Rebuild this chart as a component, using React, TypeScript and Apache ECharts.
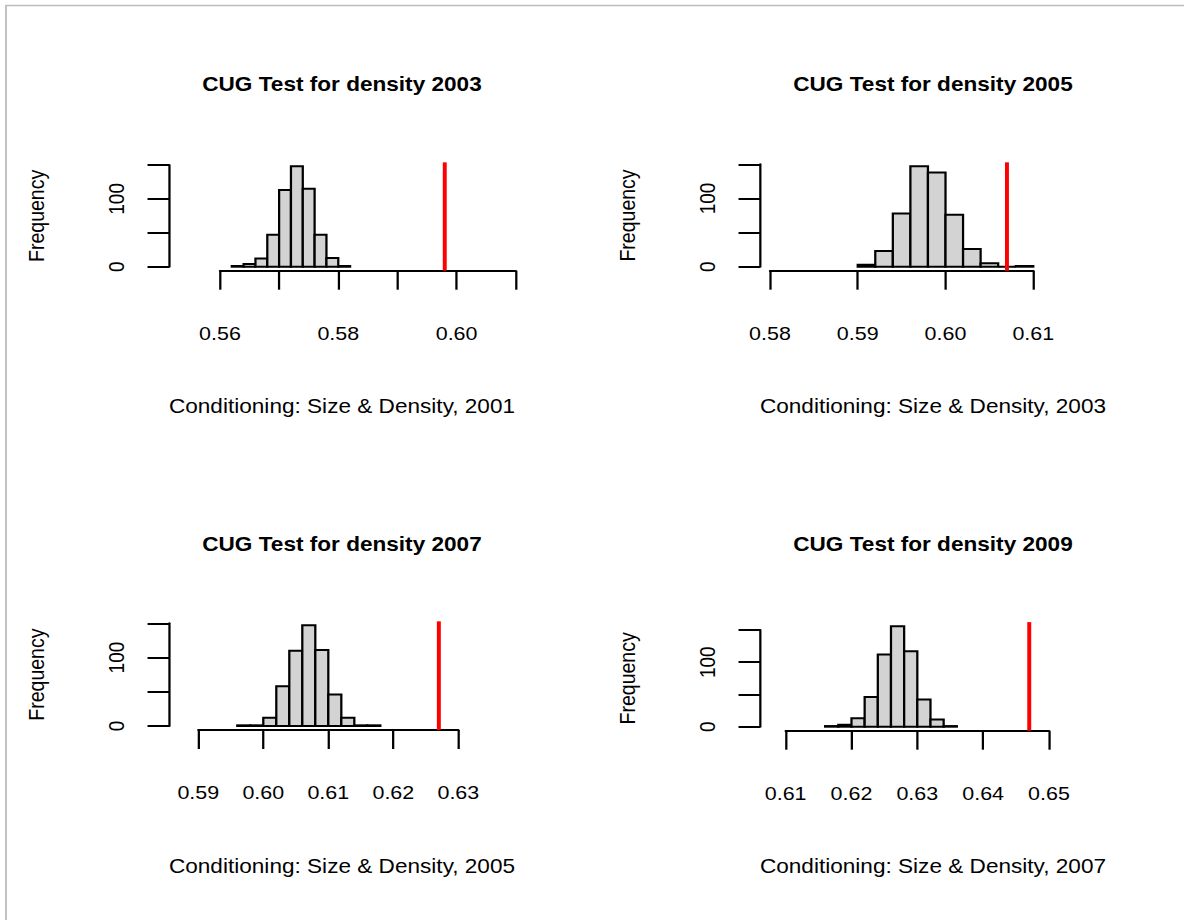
import React, { useEffect, useRef } from "react";
import * as echarts from "echarts";

// ---------- data ----------
const panelTitles = [
  "CUG Test for density 2003",
  "CUG Test for density 2005",
  "CUG Test for density 2007",
  "CUG Test for density 2009",
];
const panelXLabels = [
  "Conditioning: Size & Density, 2001",
  "Conditioning: Size & Density, 2003",
  "Conditioning: Size & Density, 2005",
  "Conditioning: Size & Density, 2007",
];
const yLabel = "Frequency";

const breaks2003 = [0.562, 0.564, 0.566, 0.568, 0.57, 0.572, 0.574, 0.576, 0.578, 0.58, 0.582];
const counts2003 = [1, 4, 12, 47, 113, 148, 115, 47, 13, 1];
const observed2003 = 0.598;
const xTicks2003 = [0.56, 0.57, 0.58, 0.59, 0.6, 0.61];
const xTickLabels2003 = ["0.56", "", "0.58", "", "0.60", ""];

const breaks2005 = [0.59, 0.592, 0.594, 0.596, 0.598, 0.6, 0.602, 0.604, 0.606, 0.608, 0.61];
const counts2005 = [3, 23, 78, 147, 138, 76, 26, 5, 0, 1];
const observed2005 = 0.607;
const xTicks2005 = [0.58, 0.59, 0.6, 0.61];
const xTickLabels2005 = ["0.58", "0.59", "0.60", "0.61"];

const breaks2007 = [0.596, 0.598, 0.6, 0.602, 0.604, 0.606, 0.608, 0.61, 0.612, 0.614, 0.616, 0.618];
const counts2007 = [1, 1, 12, 58, 110, 147, 111, 46, 12, 1, 1];
const observed2007 = 0.627;
const xTicks2007 = [0.59, 0.6, 0.61, 0.62, 0.63];
const xTickLabels2007 = ["0.59", "0.60", "0.61", "0.62", "0.63"];

const breaks2009 = [0.616, 0.618, 0.62, 0.622, 0.624, 0.626, 0.628, 0.63, 0.632, 0.634, 0.636];
const counts2009 = [1, 3, 13, 46, 112, 156, 117, 42, 11, 1];
const observed2009 = 0.647;
const xTicks2009 = [0.61, 0.62, 0.63, 0.64, 0.65];
const xTickLabels2009 = ["0.61", "0.62", "0.63", "0.64", "0.65"];

const xTickStep = 0.01;
const yTicks = [0, 50, 100, 150];
const yTickLabels = ["0", "50", "100", "150"];
const yTickLabelShown = ["0", "", "100", ""];

// ---------- layout (chart space; the chart is stretched horizontally by K) ----------
const PAGE_W = 1184;
const PAGE_H = 920;
const CHART_W = 1048;
const K = PAGE_W / CHART_W;

const layout = [
  { left: 194.7, width: 261.8, top: 165, height: 101.7, yOffset: 45.1, cx: 302.7, titleY: 84, xlabY: 406 },
  { left: 681.5, width: 233.1, top: 164.3, height: 102.4, yOffset: 8.8, cx: 825.8, titleY: 84, xlabY: 406 },
  { left: 175.5, width: 230.2, top: 623.3, height: 102.7, yOffset: 25.9, cx: 302.7, titleY: 544, xlabY: 866 },
  { left: 695.4, width: 233.1, top: 630, height: 96.7, yOffset: 22.7, cx: 825.8, titleY: 544, xlabY: 866 },
];

const FONT = "'Liberation Sans', Arial, Helvetica, sans-serif";

const panels = [
  { breaks: breaks2003, counts: counts2003, observed: observed2003, xTicks: xTicks2003, xTickLabels: xTickLabels2003 },
  { breaks: breaks2005, counts: counts2005, observed: observed2005, xTicks: xTicks2005, xTickLabels: xTickLabels2005 },
  { breaks: breaks2007, counts: counts2007, observed: observed2007, xTicks: xTicks2007, xTickLabels: xTickLabels2007 },
  { breaks: breaks2009, counts: counts2009, observed: observed2009, xTicks: xTicks2009, xTickLabels: xTickLabels2009 },
];

function buildOption() {
  const grid: any[] = [];
  const xAxis: any[] = [];
  const yAxis: any[] = [];
  const series: any[] = [];
  const title: any[] = [];

  panels.forEach((p, i) => {
    const L = layout[i];
    grid.push({ left: L.left, top: L.top, width: L.width, height: L.height, containLabel: false, outerBoundsMode: "none" });
    xAxis.push({
      gridIndex: i,
      type: "value",
      min: p.xTicks[0],
      max: p.xTicks[p.xTicks.length - 1],
      interval: xTickStep,
      offset: 4,
      axisLine: { show: true, onZero: false, lineStyle: { color: "#000", width: 2 } },
      axisTick: { show: true, length: 19, lineStyle: { color: "#000", width: 2 } },
      axisLabel: {
        margin: 53,
        fontSize: 19,
        color: "#000",
        fontFamily: FONT,
        showMinLabel: true,
        showMaxLabel: true,
        formatter: (v: number) => {
          const idx = p.xTicks.findIndex((t) => Math.abs(t - v) < 1e-9);
          return idx >= 0 ? p.xTickLabels[idx] : "";
        },
      },
      splitLine: { show: false },
    });
    yAxis.push({
      gridIndex: i,
      type: "value",
      min: yTicks[0],
      max: yTicks[yTicks.length - 1],
      interval: yTicks[1] - yTicks[0],
      offset: L.yOffset,
      name: yLabel,
      nameLocation: "middle",
      nameRotate: 90,
      nameGap: 108,
      nameTextStyle: { fontSize: 19.5, color: "#000", fontFamily: FONT },
      axisLine: { show: true, onZero: false, lineStyle: { color: "#000", width: 2 } },
      axisTick: { show: true, length: 19, lineStyle: { color: "#000", width: 2 } },
      axisLabel: {
        rotate: 90,
        margin: 37,
        fontSize: 19,
        color: "#000",
        fontFamily: FONT,
        showMinLabel: true,
        showMaxLabel: true,
        formatter: (v: number) => {
          const idx = yTicks.findIndex((t) => Math.abs(t - v) < 1e-9);
          return idx >= 0 ? yTickLabelShown[idx] : "";
        },
      },
      splitLine: { show: false },
    });

    series.push({
      type: "custom",
      xAxisIndex: i,
      yAxisIndex: i,
      clip: false,
      silent: true,
      data: p.counts.map((c, j) => [p.breaks[j], p.breaks[j + 1], c]),
      encode: { x: [0, 1], y: 2 },
      renderItem: (_params: any, api: any) => {
        const a = api.coord([api.value(0), api.value(2)]);
        const b = api.coord([api.value(1), 0]);
        return {
          type: "rect",
          shape: { x: a[0], y: a[1], width: b[0] - a[0], height: b[1] - a[1] },
          style: { fill: "#d3d3d3", stroke: "#000", lineWidth: 2 },
        };
      },
    });

    const maxCount = Math.max(...p.counts);
    series.push({
      type: "custom",
      xAxisIndex: i,
      yAxisIndex: i,
      clip: false,
      silent: true,
      data: [[p.observed, -0.04 * maxCount, 1.04 * maxCount]],
      encode: { x: 0, y: [1, 2] },
      renderItem: (_params: any, api: any) => {
        const a = api.coord([api.value(0), api.value(1)]);
        const b = api.coord([api.value(0), api.value(2)]);
        return {
          type: "line",
          shape: { x1: a[0], y1: a[1], x2: b[0], y2: b[1] },
          style: { stroke: "#ff0000", lineWidth: 3.5 },
        };
      },
    });

    title.push({
      text: panelTitles[i],
      left: L.cx,
      top: L.titleY,
      padding: 0,
      textAlign: "center",
      textVerticalAlign: "middle",
      textStyle: { fontSize: 20, fontWeight: "bold", color: "#000", fontFamily: FONT },
    });
    title.push({
      text: panelXLabels[i],
      left: L.cx,
      top: L.xlabY,
      padding: 0,
      textAlign: "center",
      textVerticalAlign: "middle",
      textStyle: { fontSize: 20, fontWeight: "normal", color: "#000", fontFamily: FONT },
    });
  });

  return {
    animation: false,
    backgroundColor: "#ffffff",
    title,
    grid,
    xAxis,
    yAxis,
    series,
    graphic: [
      {
        type: "rect",
        silent: true,
        shape: { x: 6 / K, y: 5.5, width: CHART_W + 100, height: PAGE_H + 100 },
        style: { fill: "none", stroke: "#bcbcbc", lineWidth: 1.6 },
      },
    ],
  };
}

export default function App() {
  const ref = useRef<HTMLDivElement>(null);
  useEffect(() => {
    if (!ref.current) return;
    const chart = echarts.init(ref.current, null, { renderer: "svg" });
    chart.setOption(buildOption() as any);
    return () => chart.dispose();
  }, []);
  return (
    <div
      style={{
        position: "absolute",
        left: 0,
        top: 0,
        width: PAGE_W,
        height: PAGE_H,
        overflow: "hidden",
        background: "#fff",
      }}
    >
      <div
        ref={ref}
        style={{
          width: CHART_W,
          height: PAGE_H,
          transform: `scaleX(${K})`,
          transformOrigin: "0 0",
        }}
      />
    </div>
  );
}
